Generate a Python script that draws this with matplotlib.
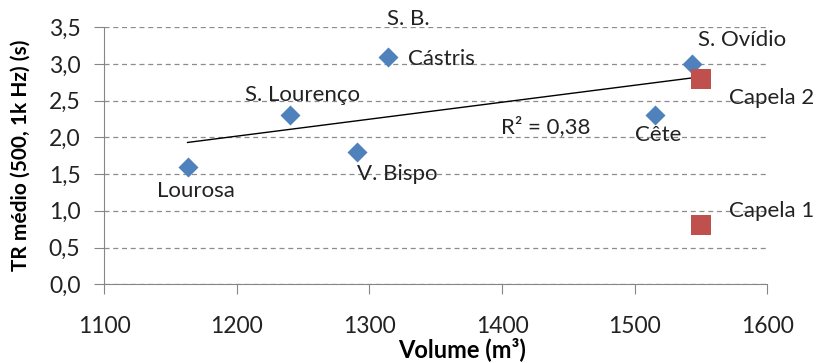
import numpy as np
import matplotlib
matplotlib.use("Agg")
from matplotlib import pyplot as plt

plt.rcParams['font.family'] = ['Lato', 'DejaVu Sans']

# blue series (churches)
names = ['Lourosa', 'S. Lourenço', 'V. Bispo', 'S. B.', 'Cête', 'S. Ovídio']
volume = [1163, 1240, 1291, 1314, 1515, 1543]
tr = [1.6, 2.3, 1.8, 3.1, 2.3, 3.0]

# red series (chapels)
cap_names = ['Capela 2', 'Capela 1']
cap_volume = [1550, 1550]
cap_tr = [2.8, 0.8]

xticks = [1100, 1200, 1300, 1400, 1500, 1600]
yticks = [0.0, 0.5, 1.0, 1.5, 2.0, 2.5, 3.0, 3.5]
r2_label = 'R² = 0,38'

fig, ax = plt.subplots(figsize=(8.19, 3.63), dpi=100)
fig.subplots_adjust(left=0.127, right=0.937, top=0.925, bottom=0.217)

ax.set_xlim(1100, 1600)
ax.set_ylim(0, 3.5)
ax.set_xticks(xticks)
ax.set_yticks(yticks)
ax.set_yticklabels([('%.1f' % v).replace('.', ',') for v in yticks])
ax.yaxis.grid(True, linestyle=(0, (4, 3)), color='#8c8c8c', linewidth=0.9)
ax.set_axisbelow(True)
for s in ['top', 'right']:
    ax.spines[s].set_visible(False)
for s in ['left', 'bottom']:
    ax.spines[s].set_color('#868686')
ax.tick_params(axis='both', colors='#868686', labelcolor='#222222', labelsize=16.5, length=7)
ax.tick_params(axis='x', pad=16)
ax.tick_params(axis='y', pad=10)

# linear trendline on blue series
p = np.polyfit(volume, tr, 1)
xs = np.array([min(volume), max(volume)])
ax.plot(xs, np.polyval(p, xs), color='black', linewidth=1)

ax.scatter(volume, tr, marker='D', s=104, color='#4f81bd', zorder=3, linewidths=0)
ax.scatter(cap_volume, cap_tr, marker='s', s=188, color='#c0504d', zorder=3, linewidths=0)

lab = dict(fontsize=16, color='#222222', va='center', textcoords='offset points',
           annotation_clip=False)
px = 0.72  # pixels -> points
ax.text(1399, 2.14, r2_label, fontsize=16, ha='left', va='center', color='#222222')

# (dx, dy) in pixels, text anchor
offsets = [(8, -24, 'center'), (13, 20, 'center'), (0, -22, 'left'),
           (20, 38, 'center'), (4, -20, 'center'), (6, 24, 'left')]
for n, x, y, (dx, dy, ha) in zip(names, volume, tr, offsets):
    ax.annotate(n, (x, y), xytext=(dx * px, dy * px), ha=ha, **lab)
ax.annotate('Cástris', (volume[3], tr[3]), xytext=(20 * px, -2 * px), ha='left', **lab)
cap_offsets = [(28, -19), (28, 14)]
for n, x, y, (dx, dy) in zip(cap_names, cap_volume, cap_tr, cap_offsets):
    ax.annotate(n, (x, y), xytext=(dx * px, dy * px), ha='left', **lab)

ax.set_xlabel('Volume (m³)', fontsize=17, fontweight='bold')
ax.xaxis.set_label_coords(0.54, -0.205)
ax.set_ylabel('TR médio (500, 1k Hz) (s)', fontsize=15, fontweight='bold')
ax.yaxis.set_label_coords(-0.11, 0.5)

fig.savefig('out.png', dpi=100)
